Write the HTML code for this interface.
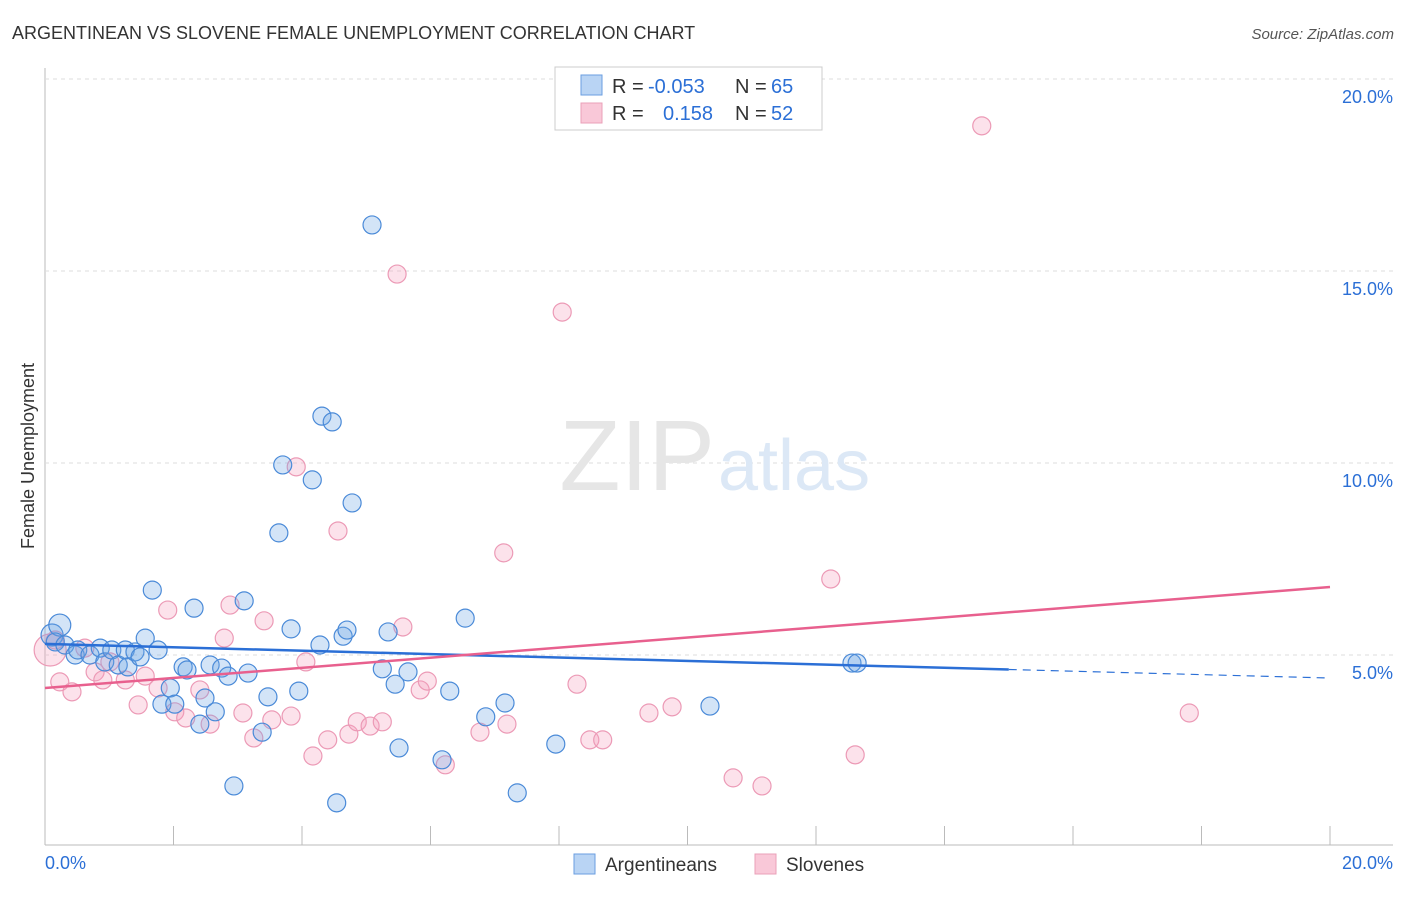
<!DOCTYPE html>
<html><head><meta charset="utf-8"><style>
body{margin:0;background:#fff;font-family:"Liberation Sans",sans-serif;}
svg text{font-family:"Liberation Sans",sans-serif;}
</style></head><body>
<svg width="1406" height="892" viewBox="0 0 1406 892">
<text x="12" y="39" font-size="18" fill="#333">ARGENTINEAN VS SLOVENE FEMALE UNEMPLOYMENT CORRELATION CHART</text>
<text x="1394" y="39" font-size="15" fill="#555" text-anchor="end" font-style="italic">Source: ZipAtlas.com</text>
<text x="34" y="456" font-size="18" fill="#333" text-anchor="middle" transform="rotate(-90 34 456)">Female Unemployment</text>
<g id="grid"></g>
<text x="715" y="490" font-size="100" fill="#e6e6e6" text-anchor="end" font-family="Liberation Serif">ZIP</text>
<text x="718" y="490" font-size="72" fill="#dce8f6">atlas</text>
<g id="pts"></g>
<g id="lines"></g>
<g>
<rect x="555" y="67" width="267" height="63" fill="#fff" stroke="#ccc"/>
<rect x="581" y="75" width="21" height="20" fill="#b9d4f4" stroke="#6a9ee0"/>
<rect x="581" y="103" width="21" height="20" fill="#f9c8d8" stroke="#eaa0b8"/>
<text x="612" y="93" font-size="20" fill="#333">R =</text>
<text x="648" y="93" font-size="20" fill="#2b6fd6">-0.053</text>
<text x="735" y="93" font-size="20" fill="#333">N =</text>
<text x="771" y="93" font-size="20" fill="#2b6fd6">65</text>
<text x="612" y="120" font-size="20" fill="#333">R =</text>
<text x="663" y="120" font-size="20" fill="#2b6fd6">0.158</text>
<text x="735" y="120" font-size="20" fill="#333">N =</text>
<text x="771" y="120" font-size="20" fill="#2b6fd6">52</text>
</g>
<g>
<rect x="574" y="854" width="21" height="20" fill="#b9d4f4" stroke="#6a9ee0"/>
<text x="605" y="871" font-size="19" fill="#333">Argentineans</text>
<rect x="755" y="854" width="21" height="20" fill="#f9c8d8" stroke="#eaa0b8"/>
<text x="786" y="871" font-size="19" fill="#333">Slovenes</text>
</g>
</svg>
<script>
const blueX=[0.11,0.23,0.16,0.31,0.47,0.51,0.70,0.86,0.93,1.04,1.14,1.25,1.29,1.40,1.48,1.56,1.67,1.76,1.82,1.95,2.02,2.15,2.21,2.32,2.41,2.49,2.57,2.65,2.75,2.85,2.94,3.10,3.16,3.38,3.47,3.64,3.70,3.83,3.95,4.16,4.28,4.31,4.47,4.54,4.64,4.70,4.78,5.09,5.25,5.34,5.45,5.51,5.65,6.18,6.30,6.54,6.86,7.16,7.35,7.95,10.35,12.56,12.64];
const blueY=[5.52,5.78,5.34,5.26,5.00,5.13,5.00,5.18,4.82,5.13,4.74,5.13,4.69,5.08,4.95,5.44,6.69,5.13,3.72,4.14,3.72,4.69,4.61,6.22,3.20,3.88,4.74,3.52,4.66,4.45,1.59,6.41,4.53,2.99,3.91,8.18,9.95,5.68,4.06,9.56,5.26,11.22,11.07,1.15,5.49,5.65,8.96,16.20,4.64,5.60,4.24,2.58,4.56,2.27,4.06,5.96,3.39,3.75,1.41,2.68,3.67,4.79,4.79];
const pinkX=[0.08,0.16,0.23,0.42,0.62,0.78,0.90,1.01,1.25,1.45,1.56,1.76,1.91,2.02,2.19,2.41,2.57,2.79,2.88,3.08,3.25,3.41,3.53,3.83,4.06,4.17,3.91,4.40,4.56,4.73,4.86,5.06,5.25,5.48,5.57,5.84,5.95,6.23,6.77,7.14,7.19,8.05,8.28,8.48,8.68,9.40,9.76,10.71,11.16,12.23,12.61,14.58,17.81];
const pinkY=[5.13,5.39,4.30,4.04,5.18,4.56,4.35,4.82,4.35,3.70,4.45,4.14,6.17,3.52,3.36,4.09,3.20,5.44,6.30,3.49,2.84,5.89,3.31,3.41,4.82,2.37,9.90,2.79,8.23,2.94,3.26,3.15,3.26,14.92,5.73,4.09,4.32,2.14,2.99,7.66,3.20,13.93,4.24,2.79,2.79,3.49,3.65,1.80,1.59,6.98,2.40,18.78,3.49];
const blueTrend=[5.29,4.40];
const pinkTrend=[4.14,6.77];
const yTicks=[5,10,15,20];
const NS="http://www.w3.org/2000/svg";
const sx=v=>45+v/20*1285, sy=v=>847-v*38.4;
function mk(t,a,p){const e=document.createElementNS(NS,t);for(const k in a)e.setAttribute(k,a[k]);p.appendChild(e);return e;}
const grid=document.getElementById('grid');
mk('line',{x1:45,y1:68,x2:45,y2:845,stroke:'#bbb'},grid);
mk('line',{x1:45,y1:845,x2:1393,y2:845,stroke:'#bbb'},grid);
for(let i=0;i<=10;i++){const x=45+i*128.5;const l=mk('line',{x1:x,y1:826,x2:x,y2:845,stroke:'#bbb'},grid);

}
yTicks.forEach(v=>{const g=mk('line',{x1:45,y1:sy(v),x2:1393,y2:sy(v),stroke:'#ddd','stroke-dasharray':'4,4'},grid);


const t=mk('text',{x:1393,y:sy(v)+24,'font-size':18,fill:'#2b6fd6','text-anchor':'end'},grid);t.textContent=v.toFixed(1)+'%';

});
[[45,'start','0.0%'],[1393,'end','20.0%']].forEach(d=>{const t=mk('text',{x:d[0],y:869,'font-size':18,fill:'#2b6fd6','text-anchor':d[1]},grid);t.textContent=d[2];

});
const pts=document.getElementById('pts');
pinkX.forEach((x,i)=>{const c=mk('circle',{cx:sx(x),cy:sy(pinkY[i]),r:i==0?16:9,fill:'rgba(244,160,190,0.3)',stroke:'#ec9ab6','stroke-width':1.2},pts);

});
blueX.forEach((x,i)=>{const c=mk('circle',{cx:sx(x),cy:sy(blueY[i]),r:i<2?11:9,fill:'rgba(110,165,230,0.3)',stroke:'#4a8ad8','stroke-width':1.2},pts);

});
const L=document.getElementById('lines');
const bAt=x=>blueTrend[0]+(blueTrend[1]-blueTrend[0])*x/20;
let l1=mk('line',{x1:sx(0),y1:sy(bAt(0)),x2:sx(15),y2:sy(bAt(15)),stroke:'#2b6fd6','stroke-width':2.5},L);


let l2=mk('line',{x1:sx(15),y1:sy(bAt(15)),x2:sx(20),y2:sy(bAt(20)),stroke:'#2b6fd6','stroke-width':1.2,'stroke-dasharray':'8,6'},L);


let l3=mk('line',{x1:sx(0),y1:sy(pinkTrend[0]),x2:sx(20),y2:sy(pinkTrend[1]),stroke:'#e8608e','stroke-width':2.5},L);


</script>
</body></html>
